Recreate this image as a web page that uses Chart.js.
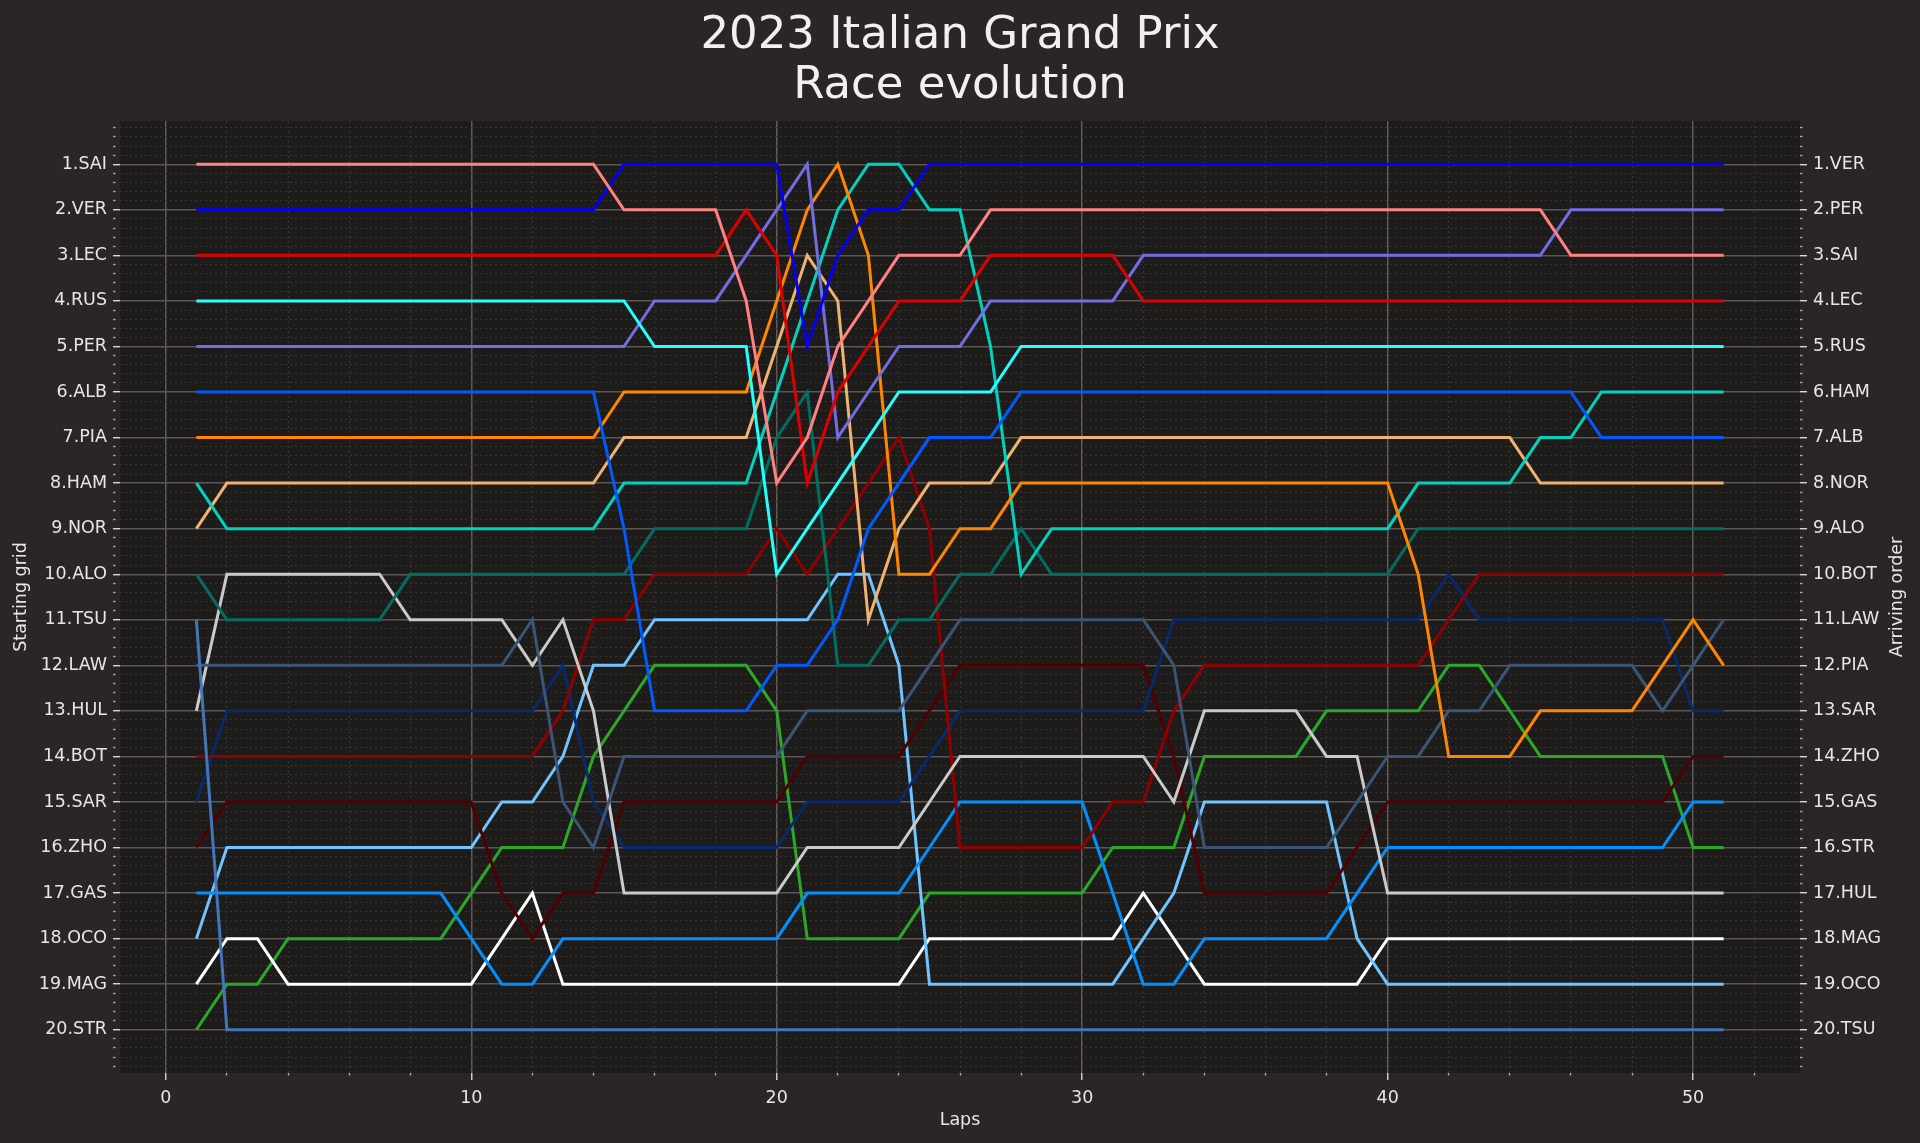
<!DOCTYPE html>
<html><head><meta charset="utf-8">
<script src="https://cdn.jsdelivr.net/npm/chart.js@4.4.0/dist/chart.umd.min.js"></script>
<style>html,body{margin:0;padding:0;background:#292625;overflow:hidden}canvas{display:block}</style>
</head><body>
<canvas id="c" width="1920" height="1143"></canvas>
<script>
const laps = [1,2,3,4,5,6,7,8,9,10,11,12,13,14,15,16,17,18,19,20,21,22,23,24,25,26,27,28,29,30,31,32,33,34,35,36,37,38,39,40,41,42,43,44,45,46,47,48,49,50,51];
const gridLabels = ['1.SAI','2.VER','3.LEC','4.RUS','5.PER','6.ALB','7.PIA','8.HAM','9.NOR','10.ALO','11.TSU','12.LAW','13.HUL','14.BOT','15.SAR','16.ZHO','17.GAS','18.OCO','19.MAG','20.STR'];
const arrivalLabels = ['1.VER','2.PER','3.SAI','4.LEC','5.RUS','6.HAM','7.ALB','8.NOR','9.ALO','10.BOT','11.LAW','12.PIA','13.SAR','14.ZHO','15.GAS','16.STR','17.HUL','18.MAG','19.OCO','20.TSU'];
const xTickLabels = [0,10,20,30,40,50];
const driverCodes = ['SAI','VER','LEC','RUS','PER','ALB','PIA','HAM','NOR','ALO','TSU','LAW','HUL','BOT','SAR','ZHO','GAS','OCO','MAG','STR'];
const driverColors = ['#ff8181','#0600ef','#dc0000','#24ffff','#716de2','#005aff','#ff8700','#00d2be','#eeb370','#006f62','#4176ba','#3b5577','#cacaca','#900000','#072a6c','#500000','#0090ff','#70c4ff','#ffffff','#2aa827'];

const SAI = [1,1,1,1,1,1,1,1,1,1,1,1,1,1,2,2,2,2,4,8,7,5,4,3,3,3,2,2,2,2,2,2,2,2,2,2,2,2,2,2,2,2,2,2,2,3,3,3,3,3,3];
const VER = [2,2,2,2,2,2,2,2,2,2,2,2,2,2,1,1,1,1,1,1,5,3,2,2,1,1,1,1,1,1,1,1,1,1,1,1,1,1,1,1,1,1,1,1,1,1,1,1,1,1,1];
const LEC = [3,3,3,3,3,3,3,3,3,3,3,3,3,3,3,3,3,3,2,3,8,6,5,4,4,4,3,3,3,3,3,4,4,4,4,4,4,4,4,4,4,4,4,4,4,4,4,4,4,4,4];
const RUS = [4,4,4,4,4,4,4,4,4,4,4,4,4,4,4,5,5,5,5,10,9,8,7,6,6,6,6,5,5,5,5,5,5,5,5,5,5,5,5,5,5,5,5,5,5,5,5,5,5,5,5];
const PER = [5,5,5,5,5,5,5,5,5,5,5,5,5,5,5,4,4,4,3,2,1,7,6,5,5,5,4,4,4,4,4,3,3,3,3,3,3,3,3,3,3,3,3,3,3,2,2,2,2,2,2];
const ALB = [6,6,6,6,6,6,6,6,6,6,6,6,6,6,9,13,13,13,13,12,12,11,9,8,7,7,7,6,6,6,6,6,6,6,6,6,6,6,6,6,6,6,6,6,6,6,7,7,7,7,7];
const PIA = [7,7,7,7,7,7,7,7,7,7,7,7,7,7,6,6,6,6,6,4,2,1,3,10,10,9,9,8,8,8,8,8,8,8,8,8,8,8,8,8,10,14,14,14,13,13,13,13,12,11,12];
const HAM = [8,9,9,9,9,9,9,9,9,9,9,9,9,9,8,8,8,8,8,6,4,2,1,1,2,2,5,10,9,9,9,9,9,9,9,9,9,9,9,9,8,8,8,8,7,7,6,6,6,6,6];
const NOR = [9,8,8,8,8,8,8,8,8,8,8,8,8,8,7,7,7,7,7,5,3,4,11,9,8,8,8,7,7,7,7,7,7,7,7,7,7,7,7,7,7,7,7,7,8,8,8,8,8,8,8];
const ALO = [10,11,11,11,11,11,11,10,10,10,10,10,10,10,10,9,9,9,9,7,6,12,12,11,11,10,10,9,10,10,10,10,10,10,10,10,10,10,10,10,9,9,9,9,9,9,9,9,9,9,9];
const TSU = [11,20,20,20,20,20,20,20,20,20,20,20,20,20,20,20,20,20,20,20,20,20,20,20,20,20,20,20,20,20,20,20,20,20,20,20,20,20,20,20,20,20,20,20,20,20,20,20,20,20,20];
const LAW = [12,12,12,12,12,12,12,12,12,12,12,11,15,16,14,14,14,14,14,14,13,13,13,13,12,11,11,11,11,11,11,11,12,16,16,16,16,16,15,14,14,13,13,12,12,12,12,12,13,12,11];
const HUL = [13,10,10,10,10,10,10,11,11,11,11,12,11,13,17,17,17,17,17,17,16,16,16,16,15,14,14,14,14,14,14,14,15,13,13,13,13,14,14,17,17,17,17,17,17,17,17,17,17,17,17];
const BOT = [14,14,14,14,14,14,14,14,14,14,14,14,13,11,11,10,10,10,10,9,10,9,8,7,9,16,16,16,16,16,15,15,13,12,12,12,12,12,12,12,12,11,10,10,10,10,10,10,10,10,10];
const SAR = [15,13,13,13,13,13,13,13,13,13,13,13,12,15,16,16,16,16,16,16,15,15,15,15,14,13,13,13,13,13,13,13,11,11,11,11,11,11,11,11,11,10,11,11,11,11,11,11,11,13,13];
const ZHO = [16,15,15,15,15,15,15,15,15,15,17,18,17,17,15,15,15,15,15,15,14,14,14,14,13,12,12,12,12,12,12,12,14,17,17,17,17,17,16,15,15,15,15,15,15,15,15,15,15,14,14];
const GAS = [17,17,17,17,17,17,17,17,17,18,19,19,18,18,18,18,18,18,18,18,17,17,17,17,16,15,15,15,15,15,17,19,19,18,18,18,18,18,17,16,16,16,16,16,16,16,16,16,16,15,15];
const OCO = [18,16,16,16,16,16,16,16,16,16,15,15,14,12,12,11,11,11,11,11,11,10,10,12,19,19,19,19,19,19,19,18,17,15,15,15,15,15,18,19,19,19,19,19,19,19,19,19,19,19,19];
const MAG = [19,18,18,19,19,19,19,19,19,19,18,17,19,19,19,19,19,19,19,19,19,19,19,19,18,18,18,18,18,18,18,17,18,19,19,19,19,19,19,18,18,18,18,18,18,18,18,18,18,18,18];
const STR = [20,19,19,18,18,18,18,18,18,17,16,16,16,14,13,12,12,12,12,13,18,18,18,18,17,17,17,17,17,17,16,16,16,14,14,14,14,13,13,13,13,12,12,13,14,14,14,14,14,16,16];

const series = [SAI,VER,LEC,RUS,PER,ALB,PIA,HAM,NOR,ALO,TSU,LAW,HUL,BOT,SAR,ZHO,GAS,OCO,MAG,STR];

const FONT = 'DejaVu Sans';
const TXT = '#e8e6e4';
const isInt = v => Math.abs(v - Math.round(v)) < 1e-6;

const yTickValues = [];
for (let k = 1; k <= 104; k++) yTickValues.push(k / 5);
const xTickValues = [];
for (let k = 0; k <= 52; k += 2) xTickValues.push(k);

const datasets = driverCodes.map((code, i) => ({
  label: code,
  data: laps.map((lap, j) => ({ x: lap, y: series[i][j] })),
  borderColor: driverColors[i],
  backgroundColor: driverColors[i],
  borderWidth: 3,
  pointRadius: 0,
  tension: 0,
  fill: false,
  xAxisID: 'x',
  yAxisID: 'y'
}));

const plotBg = {
  id: 'plotBg',
  beforeDraw(chart) {
    const { ctx, chartArea: a } = chart;
    ctx.save();
    ctx.fillStyle = '#1e1c1b';
    ctx.fillRect(a.left, a.top, a.right - a.left, a.bottom - a.top);
    ctx.restore();
  },
  afterDraw(chart) {
    const { ctx, chartArea: a } = chart;
    ctx.save();
    ctx.translate(1897, (a.top + a.bottom) / 2);
    ctx.rotate(-Math.PI / 2);
    ctx.fillStyle = TXT;
    ctx.font = '17.5px "' + FONT + '"';
    ctx.textAlign = 'center';
    ctx.textBaseline = 'middle';
    ctx.fillText('Arriving order', 0, 0);
    ctx.restore();
  }
};

function yGrid(onArea) {
  return {
    display: true,
    drawOnChartArea: onArea,
    drawTicks: true,
    tickLength: 7,
    color: c => (c.tick && isInt(c.tick.value)) ? '#5a5756' : '#3a3837',
    lineWidth: c => (c.tick && isInt(c.tick.value)) ? 1.4 : 0.9,
    tickColor: c => (c.tick && isInt(c.tick.value)) ? '#d8d8d8' : '#a8a8a8',
    tickWidth: 1.4,
    tickBorderDash: c => (c.tick && isInt(c.tick.value)) ? [] : [2.5, 60]
  };
}

new Chart(document.getElementById('c'), {
  type: 'line',
  data: { datasets },
  plugins: [plotBg],
  options: {
    responsive: false,
    animation: false,
    devicePixelRatio: 1,
    layout: { padding: 0 },
    plugins: {
      legend: { display: false },
      tooltip: { enabled: false },
      title: {
        display: true,
        text: ['2023 Italian Grand Prix', 'Race evolution'],
        color: '#f2f0ee',
        font: { family: FONT, size: 45, weight: 'normal', lineHeight: 1.111 },
        padding: { top: 11, bottom: 10 }
      }
    },
    scales: {
      x: {
        type: 'linear',
        min: -1.5,
        max: 53.5,
        afterBuildTicks: s => { s.ticks = xTickValues.map(v => ({ value: v })); },
        afterFit: s => { s.height = 70; },
        ticks: {
          autoSkip: false,
          maxRotation: 0,
          color: TXT,
          font: { family: FONT, size: 17.5 },
          padding: 8,
          callback: v => xTickLabels.includes(v) ? String(v) : ''
        },
        grid: {
          display: true,
          tickLength: 7,
          color: c => (c.tick && c.tick.value % 10 === 0) ? '#5e5b5a' : '#3b3938',
          lineWidth: c => (c.tick && c.tick.value % 10 === 0) ? 1.5 : 0.9,
          tickColor: c => (c.tick && c.tick.value % 10 === 0) ? '#d8d8d8' : '#a8a8a8',
          tickWidth: 1.4,
          tickBorderDash: c => (c.tick && c.tick.value % 10 === 0) ? [] : [2.5, 60]
        },
        border: { display: false, dash: c => (c.tick && c.tick.value % 10 === 0) ? [] : [2, 3] },
        title: {
          display: true,
          text: 'Laps',
          color: TXT,
          font: { family: FONT, size: 17.5, lineHeight: 1.2 },
          padding: { top: 0, bottom: 12 }
        }
      },
      y: {
        type: 'linear',
        position: 'left',
        reverse: true,
        min: 0.05,
        max: 20.95,
        afterBuildTicks: s => { s.ticks = yTickValues.map(v => ({ value: v })); },
        afterFit: s => { s.width = 120; },
        ticks: {
          autoSkip: false,
          color: TXT,
          font: { family: FONT, size: 17.5 },
          padding: 6,
          callback: v => isInt(v) && v >= 1 && v <= 20 ? gridLabels[Math.round(v) - 1] : ''
        },
        grid: yGrid(true),
        border: { display: false, dash: c => (c.tick && isInt(c.tick.value)) ? [] : [2, 3] },
        title: {
          display: true,
          text: 'Starting grid',
          color: TXT,
          font: { family: FONT, size: 17.5, lineHeight: 1.2 },
          padding: { top: 10.5, bottom: 0 }
        }
      },
      y2: {
        type: 'linear',
        display: true,
        position: 'right',
        reverse: true,
        min: 0.05,
        max: 20.95,
        afterBuildTicks: s => { s.ticks = yTickValues.map(v => ({ value: v })); },
        afterFit: s => { s.width = 120; },
        ticks: {
          autoSkip: false,
          color: TXT,
          font: { family: FONT, size: 17.5 },
          padding: 6,
          callback: v => isInt(v) && v >= 1 && v <= 20 ? arrivalLabels[Math.round(v) - 1] : ''
        },
        grid: yGrid(false),
        border: { display: false }
      }
    }
  }
});
</script>
</body></html>
